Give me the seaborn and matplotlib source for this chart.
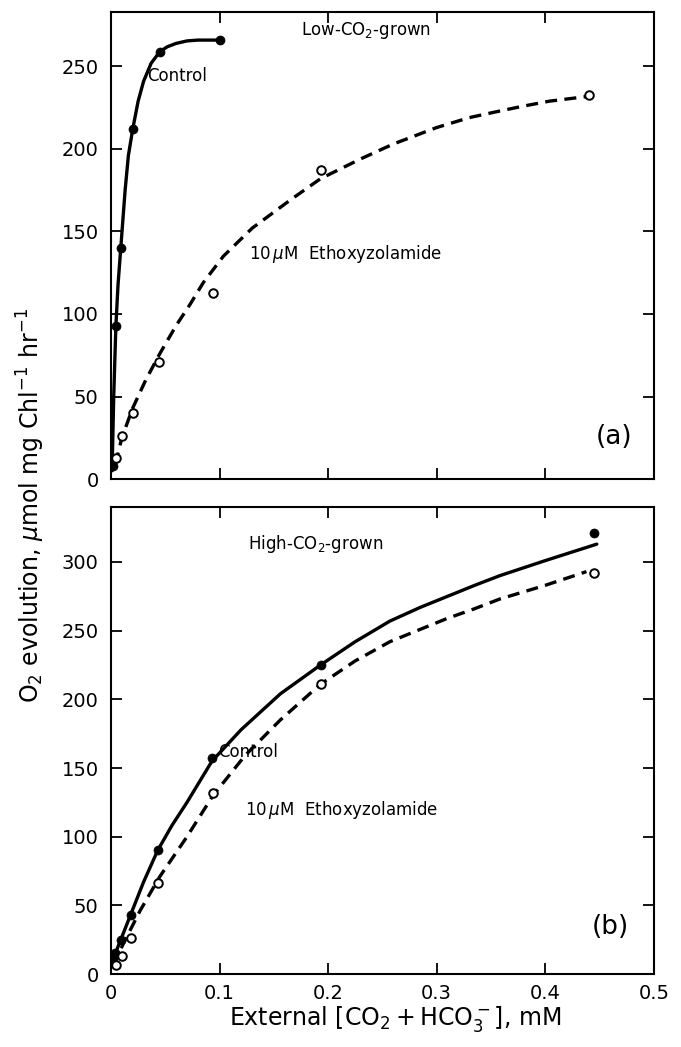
import pandas as pd
import matplotlib
matplotlib.use('agg')
import seaborn as sns
import matplotlib.pyplot as plt

# measured points, panel (a) low-CO2-grown
A_CTRL_X = [0.0015, 0.0045, 0.009, 0.02, 0.045, 0.1]
A_CTRL_Y = [8, 93, 140, 212, 259, 266]
A_ETX_X = [0.0045, 0.01, 0.02, 0.044, 0.094, 0.193, 0.44]
A_ETX_Y = [13, 26, 40, 71, 113, 187, 233]

# fitted curves
A_CTRL_FIT_X = [0.001, 0.0025, 0.0045, 0.0065, 0.009, 0.013, 0.016, 0.02, 0.025, 0.03,
                0.037, 0.045, 0.052, 0.06, 0.07, 0.08, 0.1]
A_CTRL_FIT_Y = [5, 50, 93, 118, 140, 175, 196, 212, 229, 241, 252, 259, 262, 264, 265.5, 266, 266]
A_ETX_FIT_X = [0.004, 0.01, 0.02, 0.032, 0.045, 0.06, 0.073, 0.085, 0.1035, 0.13, 0.165, 0.193,
               0.23, 0.26, 0.3, 0.33, 0.358, 0.38, 0.404, 0.441]
A_ETX_FIT_Y = [9, 25, 43, 60, 76, 93, 106, 119, 135, 152, 169, 182, 194, 203, 213, 219, 223,
               226, 229, 232]

# measured points, panel (b) high-CO2-grown
B_CTRL_X = [0.0015, 0.004, 0.009, 0.018, 0.043, 0.093, 0.193, 0.445]
B_CTRL_Y = [11, 15, 25, 43, 90, 157, 225, 321]
B_ETX_X = [0.0046, 0.01, 0.018, 0.0435, 0.094, 0.193, 0.445]
B_ETX_Y = [6.5, 13, 26, 66, 132, 211, 292]

# fitted curves
B_CTRL_FIT_X = [0.001, 0.005, 0.009, 0.018, 0.03, 0.043, 0.056, 0.07, 0.093, 0.12, 0.156, 0.193,
                0.225, 0.257, 0.285, 0.31, 0.335, 0.358, 0.4, 0.4475]
B_CTRL_FIT_Y = [8, 17, 25, 43, 67, 90, 108, 125, 155, 178, 204, 225, 242, 257, 267, 275, 283,
                290, 301, 313]
B_ETX_FIT_X = [0.002, 0.0113, 0.0267, 0.045, 0.07, 0.094, 0.1234, 0.156, 0.193, 0.225,
               0.257, 0.285, 0.31, 0.335, 0.358, 0.4, 0.438]
B_ETX_FIT_Y = [6, 22, 46, 71, 100, 130, 159, 185, 211, 228, 242, 251, 259, 266, 273, 283, 293]

XTICKS = [0, 0.1, 0.2, 0.3, 0.4, 0.5]
XTICKLABELS = ["0", "0.1", "0.2", "0.3", "0.4", "0.5"]


def frame(x, y):
	return pd.DataFrame({"x": x, "y": y})


def draw_panel(ax, ctrl, etx, ctrl_fit, etx_fit, ymax, yticks):
	sns.lineplot(data=frame(*ctrl_fit), x="x", y="y", ax=ax, color="black",
				 linewidth=2.4, sort=True)
	sns.lineplot(data=frame(*etx_fit), x="x", y="y", ax=ax, color="black",
				 linewidth=2.4, sort=True)
	# dash lengths are scaled by the linewidth
	ax.lines[-1].set_dashes([3.6, 2.2])
	sns.scatterplot(data=frame(*ctrl), x="x", y="y", ax=ax, color="black",
					s=42, edgecolor="black", zorder=5)
	sns.scatterplot(data=frame(*etx), x="x", y="y", ax=ax, facecolor="white",
					s=38, edgecolor="black", linewidth=1.4, zorder=5)
	ax.set_xlim(0, 0.5)
	ax.set_ylim(0, ymax)
	ax.set_xticks(XTICKS)
	ax.set_yticks(yticks)
	ax.tick_params(direction="in", length=8, width=1.3, top=True, right=True,
				   labelsize=14, colors="black")
	ax.tick_params(axis="y", pad=9)
	ax.tick_params(axis="x", pad=7)
	for sp in ax.spines.values():
		sp.set_linewidth(1.5)
		sp.set_color("black")
	ax.set(xlabel="", ylabel="")


sns.set_style("ticks")
plt.rcParams['font.family'] = ['DejaVu Sans']
plt.rcParams['text.color'] = 'black'

fig = plt.figure(figsize=(6.81, 10.47), dpi=100)
ax1 = fig.add_axes([0.163, 0.5425, 0.797, 0.446])
ax2 = fig.add_axes([0.163, 0.0697, 0.797, 0.446])

draw_panel(ax1, (A_CTRL_X, A_CTRL_Y), (A_ETX_X, A_ETX_Y),
		   (A_CTRL_FIT_X, A_CTRL_FIT_Y), (A_ETX_FIT_X, A_ETX_FIT_Y),
		   283, [0, 50, 100, 150, 200, 250])
ax1.set_xticklabels([])

draw_panel(ax2, (B_CTRL_X, B_CTRL_Y), (B_ETX_X, B_ETX_Y),
		   (B_CTRL_FIT_X, B_CTRL_FIT_Y), (B_ETX_FIT_X, B_ETX_FIT_Y),
		   340, [0, 50, 100, 150, 200, 250, 300])
ax2.set_xticklabels(XTICKLABELS)

# annotations, panel (a)
ax1.text(0.35, 0.96, "Low-CO$_2$-grown", transform=ax1.transAxes, fontsize=12, va="center")
ax1.text(0.066, 0.862, "Control", transform=ax1.transAxes, fontsize=12, va="center")
ax1.text(0.255, 0.482, r"10$\,\mu$M  Ethoxyzolamide", transform=ax1.transAxes, fontsize=12, va="center")
ax1.text(0.96, 0.09, "(a)", transform=ax1.transAxes, fontsize=19, ha="right", va="center")

# annotations, panel (b)
ax2.text(0.253, 0.92, "High-CO$_2$-grown", transform=ax2.transAxes, fontsize=12, va="center")
ax2.text(0.197, 0.476, "Control", transform=ax2.transAxes, fontsize=12, va="center")
ax2.text(0.246, 0.352, r"10$\,\mu$M  Ethoxyzolamide", transform=ax2.transAxes, fontsize=12, va="center")
ax2.text(0.955, 0.1, "(b)", transform=ax2.transAxes, fontsize=19, ha="right", va="center")

fig.text(0.045, 0.517, r"O$_2$ evolution, $\mu$mol mg Chl$^{-1}$ hr$^{-1}$",
		 rotation=90, fontsize=17, ha="center", va="center")
fig.text(0.58, 0.027, r"External $\left[\mathrm{CO_2 + HCO_3^-}\right]$, mM",
		 fontsize=17, ha="center", va="center")

fig.savefig("out.png", dpi=100)
